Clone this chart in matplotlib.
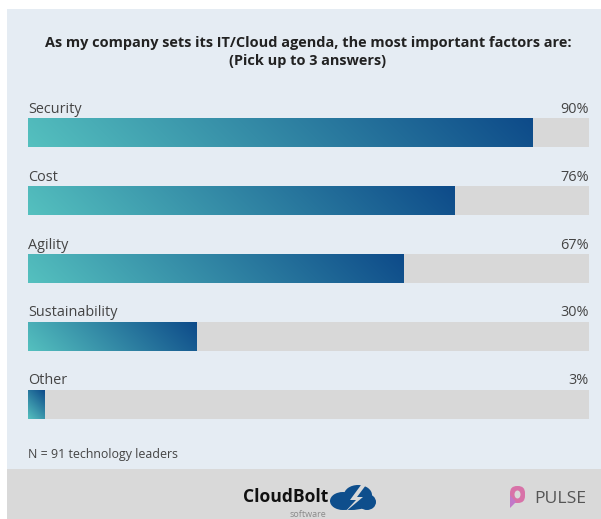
import numpy as np
import matplotlib
matplotlib.use("Agg")
import matplotlib.pyplot as plt
from matplotlib.patches import Rectangle, Ellipse, Polygon, FancyBboxPatch

# Survey data
categories = ["Security", "Cost", "Agility", "Sustainability", "Other"]
shares = [90, 76, 67, 30, 3]
value_labels = ["90%", "76%", "67%", "30%", "3%"]
title_lines = ["As my company sets its IT/Cloud agenda, the most important factors are:",
               "(Pick up to 3 answers)"]
note = "N = 91 technology leaders"

W, H = 601, 519
DPI = 100
PANEL = "#E5ECF3"
FOOTER = "#D9D9D9"
TRACK = "#D8D8D8"
TEXT = "#444444"
C_START = np.array([85, 193, 191]) / 255.0
C_END = np.array([13, 74, 137]) / 255.0
FONT = "Open Sans"

fig = plt.figure(figsize=(W / DPI, H / DPI), dpi=DPI)
fig.patch.set_facecolor("white")

# Background layer in pixel coordinates
bg = fig.add_axes([0, 0, 1, 1])
bg.set_xlim(0, W)
bg.set_ylim(H, 0)
bg.axis("off")
bg.add_patch(Rectangle((7, 9), W - 7, 460, facecolor=PANEL, edgecolor="none"))
bg.add_patch(Rectangle((7, 469), W - 7, 50, facecolor=FOOTER, edgecolor="none"))

bg.text(308, 47, title_lines[0], ha="center", va="baseline", fontsize=10.45,
        fontweight="bold", family=FONT, color="#222222")
bg.text(308, 65, title_lines[1], ha="center", va="baseline", fontsize=10.45,
        fontweight="bold", family=FONT, color="#222222")
bg.text(28, 458, note, ha="left", va="baseline", fontsize=8.9, family=FONT,
        color=TEXT)

# CloudBolt logo
bg.text(243, 502, "CloudBolt", ha="left", va="baseline", fontsize=12.6,
        fontweight="bold", family=FONT, color="#111111")
bg.text(308, 517, "software", ha="center", va="baseline", fontsize=6.5,
        family=FONT, color="#8a8a8a")
blue = "#0E4E8C"
for cx, cy, rx, ry in [(343, 501, 13, 9), (358, 495, 14, 10), (367, 502, 9, 8),
                       (351, 504, 17, 6)]:
    bg.add_patch(Ellipse((cx, cy), 2 * rx, 2 * ry, facecolor=blue, edgecolor="none"))
bg.add_patch(Polygon([(361, 485), (350, 500), (356, 500), (344, 513),
                      (363, 497), (357, 497), (366, 485)],
                     closed=True, facecolor=FOOTER, edgecolor="none"))

# PULSE logo
bg.add_patch(FancyBboxPatch((510, 486), 15, 17, boxstyle="round,pad=0,rounding_size=7",
                            facecolor="#D872A8", edgecolor="none"))
bg.add_patch(Polygon([(510, 495), (510, 508), (516, 502)], closed=True,
                     facecolor="#C178C8", edgecolor="none"))
bg.add_patch(Ellipse((517.5, 494.5), 6, 8, facecolor=FOOTER, edgecolor="none"))
bg.text(534, 503, "PULSE", ha="left", va="baseline", fontsize=12.6,
        family=FONT, color="#555555")

# Bar chart axes
ax = fig.add_axes([28 / W, (H - 438.5) / H, 561 / W, 340 / H])
ax.axis("off")
ax.patch.set_alpha(0)

bar_h = 29 / 68
y = np.arange(len(categories))
ax.barh(y, [100] * len(categories), height=bar_h, color=TRACK, edgecolor="none")
bars = ax.barh(y, shares, height=bar_h, color="none", edgecolor="none")

px_per_unit = 561 / 100.0
for i, (bar, val) in enumerate(zip(bars, shares)):
    w_px = max(int(round(val * px_per_unit)), 2)
    h_px = 29
    xs = np.arange(w_px)[None, :] + 0.5
    ys = (h_px - (np.arange(h_px)[:, None] + 0.5))  # distance from bottom edge
    t = (xs + ys) / (w_px + h_px)
    img = C_START[None, None, :] * (1 - t[..., None]) + C_END[None, None, :] * t[..., None]
    im = ax.imshow(img, extent=(0, val, i + bar_h / 2, i - bar_h / 2),
                   aspect="auto", interpolation="bilinear", zorder=3)
    im.set_clip_path(bar)

for i, (cat, lab) in enumerate(zip(categories, value_labels)):
    yb = i - bar_h / 2 - 5.5 / 68
    ax.text(0, yb, cat, ha="left", va="baseline", fontsize=10.4, family=FONT,
            color=TEXT)
    ax.text(100, yb, lab, ha="right", va="baseline", fontsize=10.4, family=FONT,
            color=TEXT)

ax.set_xlim(0, 100)
ax.set_ylim(len(categories) - 0.5, -0.5)

fig.savefig("out.png", dpi=DPI, facecolor=fig.get_facecolor())
